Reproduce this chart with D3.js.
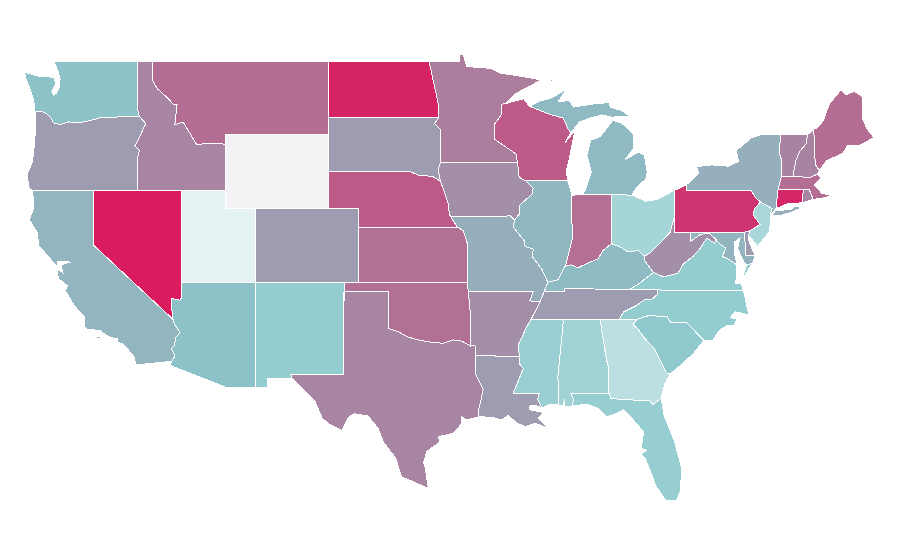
<!DOCTYPE html>
<html>
<head>
<meta charset="utf-8">
<title>us states</title>
<script src="https://cdnjs.cloudflare.com/ajax/libs/d3/7.8.5/d3.min.js"></script>
<style>
  html, body { margin: 0; background: #fff; }
  .state { stroke: #fff; stroke-width: 1px; shape-rendering: crispEdges; }
</style>
</head>
<body>
<div id="chart"></div>
<script>
// values, one per state
var stateNames = ["WY","UT","GA","NJ","OH","AL","MS","FL","NC","NM","VA","SC","AZ","WA","KY","MI","IL","CA","MD","NY","MO","TN","LA","SD","CO","OR","DE","IA","AR","WV","TX","ID","RI","VT","NH","MN","IN","MT","ME","MA","KS","OK","NE","WI","PA","CT","ND","NV"];
var stateValues = [0,6,23,30,32,33.7,37,38,39,39.5,39.5,40.5,43,43,45,45.7,46.8,47.4,48,49.5,50,56,56,56,56,56,56,60.4,60.4,60.4,63.5,63.5,63.5,64,64,66.5,71.3,72,72,72,71,71,78.5,78.5,91.5,96.2,97.3,100];

// shared borders, lon/lat
var columbia = [[-124.05,46.27],[-123.55,46.26],[-123.2,46.15],[-122.9,45.9],[-122.75,45.65],[-122.3,45.55],[-121.7,45.7],[-121.2,45.65],[-120.5,45.72],[-119.6,45.92],[-119,45.95],[-116.92,46]];
var snake = [[-116.92,46],[-116.47,45.6],[-116.7,45.25],[-116.85,44.95],[-117.22,44.4],[-117.05,44.25],[-116.9,44.15],[-117.03,43.8],[-117.03,42]];
var coRiver = [[-114.63,35],[-114.57,34.8],[-114.15,34.27],[-114.45,34],[-114.53,33.6],[-114.72,33.4],[-114.5,33],[-114.72,32.72]];
var nvAz = [[-114.04,37],[-114.04,36.2],[-114.15,36.03],[-114.7,36.12],[-114.75,35.8],[-114.63,35]];
var idMt = [[-116.05,49],[-116.05,48],[-115.7,47.5],[-115,47],[-114.6,46.65],[-114.35,46.65],[-114.5,45.55],[-113.95,45.7],[-113.45,45.05],[-113,44.45],[-112.3,44.55],[-111.5,44.55],[-111.05,44.47]];
var sdNe = [[-98.5,43],[-97.9,42.8],[-97,42.75],[-96.45,42.49]];
var neIa = [[-96.45,42.49],[-96.1,41.7],[-95.9,41.2],[-95.85,40.7],[-95.77,40.58]];
var neMo = [[-95.77,40.58],[-95.31,40]];
var ksMo = [[-95.31,40],[-94.9,39.8],[-94.62,39.1],[-94.62,37]];
var redRiver = [[-94.44,33.57],[-95,33.82],[-95.57,33.88],[-96.25,33.7],[-97.04,33.75],[-97.95,33.88],[-98.74,34.06],[-99.31,34.33],[-100,34.51]];
var sabine = [[-94.04,32],[-93.55,31.2],[-93.7,30.6],[-93.85,30.15],[-93.85,29.72]];
var ndMn = [[-97.23,49],[-96.85,47.6],[-96.55,46.5],[-96.56,45.94]];
var sdMn = [[-96.56,45.94],[-96.85,45.6],[-96.45,45.3],[-96.45,43.5]];
var sdIa = [[-96.45,43.5],[-96.6,43.1],[-96.45,42.49]];
var mnWi = [[-92,46.7],[-92.3,46.65],[-92.3,46.1],[-92.8,45.55],[-92.75,44.75],[-91.3,43.95],[-91.22,43.5]];
var iaWi = [[-91.22,43.5],[-91.1,42.7],[-90.65,42.5]];
var iaIl = [[-90.65,42.5],[-90.15,42.1],[-90.2,41.8],[-91.05,41.2],[-91.1,40.7],[-91.42,40.38]];
var moIl = [[-91.42,40.38],[-91.5,40],[-90.75,39.25],[-90.7,38.95],[-90.15,38.8],[-90.2,38.4],[-89.55,37.7],[-89.15,37]];
var arTn = [[-89.69,35.95],[-89.95,35.5],[-90.14,35.23],[-90.3,35]];
var arMs = [[-90.3,35],[-90.59,34.6],[-91.16,33.6],[-91.09,33]];
var laMs = [[-91.09,33],[-91.1,32.6],[-90.82,32.34],[-91.5,31],[-89.73,31],[-89.85,30.65],[-89.55,30.2]];
var ilKy = [[-89.15,37],[-88.45,37.15],[-88.05,37.8]];
var inKy = [[-87.95,37.9],[-87.6,37.95],[-87.1,37.8],[-86.3,38.1],[-85.75,38.27],[-85.4,38.73],[-84.82,39.1]];
var ohKy = [[-84.82,39.1],[-84.3,38.95],[-83.7,38.65],[-83,38.73],[-82.6,38.42]];
var ohWv = [[-82.6,38.42],[-82.2,38.6],[-81.7,39],[-80.85,39.7],[-80.52,40.64]];
var kyWv = [[-82.6,38.42],[-82.6,38.2],[-81.97,37.54]];
var vaKy = [[-81.97,37.54],[-83.1,36.85],[-83.68,36.6]];
var vaWv = [[-81.97,37.54],[-81.3,37.3],[-80.3,37.5],[-79.95,38],[-79.3,38.4],[-78.87,38.77],[-78.35,39.4],[-77.83,39.13],[-77.72,39.32]];
var mdWv = [[-77.72,39.32],[-78.2,39.68],[-78.8,39.6],[-79.48,39.2],[-79.48,39.72]];
var potomac = [[-77.72,39.32],[-77.5,39.1],[-77.05,38.85],[-77.3,38.4],[-76.95,38.3],[-76.3,37.95]];
var tnNc = [[-84.32,35],[-84,35.4],[-83.2,35.72],[-82.6,36.05],[-82.05,36.1],[-81.7,36.35],[-81.68,36.59]];
var scNc = [[-83.1,35],[-82.3,35.2],[-81.05,35.15],[-80.8,34.82],[-79.7,34.8],[-78.55,33.86]];
var gaSc = [[-83.1,35],[-83.35,34.7],[-83,34.45],[-82.6,34],[-81.9,33.4],[-81.4,32.6],[-81.1,32.1],[-80.85,32.03]];
var alGa = [[-85.6,34.98],[-85.18,32.87],[-85,32.3],[-85.05,31.55],[-85,31]];
var gaFl = [[-85,31],[-84.87,30.7],[-82.2,30.57],[-82.05,30.36],[-81.45,30.72]];
var paNj = [[-74.7,41.36],[-75.1,41],[-75.2,40.65],[-74.72,40.15],[-75.4,39.8]];
var nyPa = [[-79.76,42.27],[-79.76,42],[-75.35,42],[-75.05,41.6],[-74.7,41.36]];
var nyNj = [[-74.7,41.36],[-73.9,41],[-74.05,40.65]];
var deMd = [[-75.79,39.72],[-75.7,38.46],[-75.05,38.45]];
var nyNe = [[-73.65,41],[-73.5,42.05],[-73.27,42.75],[-73.25,43.55],[-73.4,44],[-73.35,45.01]];
var vtNh = [[-71.5,45.01],[-71.6,44.5],[-72.05,44.1],[-72.3,43.6],[-72.45,43],[-72.46,42.73]];
var meNh = [[-71.08,45.3],[-70.98,43.4],[-70.7,43.07]];

// lon/lat outlines, several rings where a state has islands or peninsulas
var stateRings = {
  WA: [[[-117.03,49],[-122.75,49],[-122.6,48.75],[-122.45,48.45],[-122.3,48],[-122.35,47.6],[-122.55,47.25],[-122.75,47.15],[-122.85,47.35],[-122.6,47.8],[-122.7,48.1],[-123.1,48.15],[-123.7,48.17],[-124.7,48.38],[-124.65,48.1],[-124.4,47.6],[-124.15,47],[-124.05,46.65],...columbia,[-117.04,46.42]]],
  OR: [[[-124.05,46.27],...columbia.slice(1),...snake.slice(1),[-120,42],[-124.21,42],[-124.4,42.1],[-124.55,42.84],[-124.2,43.5],[-124.1,44],[-124,45],[-123.95,46.2]]],
  CA: [[[-120,42],[-124.21,42],[-124.1,41.5],[-124.1,41],[-124.4,40.4],[-123.85,39.7],[-123.75,39],[-123,38.3],[-122.5,37.85],[-122.5,38.15],[-121.6,38.1],[-122.25,37.95],[-122.1,37.5],[-122.4,37.72],[-122.5,37.5],[-122.4,37.2],[-122,36.95],[-121.8,36.8],[-121.95,36.55],[-121.3,35.7],[-120.65,35.15],[-120.63,34.6],[-120.45,34.45],[-119.6,34.4],[-119.2,34.15],[-118.8,34],[-118.4,33.95],[-118.4,33.75],[-118,33.65],[-117.3,33],[-117.13,32.53],[-114.72,32.72],...coRiver.slice().reverse().slice(1),[-120,39]],
       [[-119.95,34.02],[-119.55,34.07],[-119.5,33.98],[-119.9,33.95]],[[-118.6,33.48],[-118.35,33.4],[-118.4,33.32]]],
  NV: [[[-120,42],[-114.04,42],...nvAz,[-120,39]]],
  AZ: [[...nvAz,...coRiver.slice(1),[-114.81,32.5],[-111.07,31.33],[-109.05,31.33],[-109.05,37]]],
  UT: [[[-114.04,42],[-111.05,42],[-111.05,41],[-109.05,41],[-109.05,37],[-114.04,37]]],
  ID: [[[-117.03,49],...idMt,[-111.05,42],[-117.03,42],...snake.slice().reverse().slice(1),[-117.04,46.42]]],
  MT: [[...idMt,[-111.05,45],[-104.05,45],[-104.05,49]]],
  WY: [[[-111.05,45],[-104.05,45],[-104.05,41],[-111.05,41]]],
  CO: [[[-109.05,41],[-102.05,41],[-102.05,37],[-109.05,37]]],
  NM: [[[-109.05,37],[-103,37],[-103.05,32],[-106.62,32],[-106.53,31.78],[-108.2,31.78],[-108.2,31.33],[-109.05,31.33]]],
  ND: [[[-104.05,49],...ndMn,[-104.05,45.94]]],
  SD: [[[-104.05,45.94],...sdMn,...sdIa.slice(1),...sdNe.slice().reverse().slice(1),[-104.05,43]]],
  NE: [[[-104.05,43],...sdNe,...neIa.slice(1),...neMo.slice(1),[-102.05,40],[-102.05,41],[-104.05,41]]],
  KS: [[[-102.05,40],...ksMo,[-102.05,37]]],
  OK: [[[-103,37],[-94.62,37],[-94.43,35.4],...redRiver,[-100,36.5],[-103,36.5]]],
  TX: [[[-103,36.5],[-100,36.5],...redRiver.slice().reverse(),[-94.04,33.55],[-94.04,33.02],...sabine,[-94.7,29.54],[-95,29.72],[-95,29.36],[-95.57,28.82],[-96.6,28.64],[-96.5,28.35],[-97.38,27.83],[-97.6,27.2],[-97.5,27],[-97.27,25.84],[-97.6,25.95],[-98.75,26.35],[-99.1,26.45],[-99.5,27.5],[-100.3,28.3],[-100.7,29.1],[-101.4,29.77],[-102.3,29.88],[-102.7,29.7],[-103.15,28.98],[-104,29.3],[-104.5,29.65],[-105,30.6],[-106.53,31.78],[-106.62,32],[-103.05,32]]],
  MN: [[[-97.23,49],[-95.15,49],[-95.15,49.38],[-94.9,49.33],[-94.67,48.7],[-93,48.6],[-92.4,48.35],[-90.8,48.15],[-89.6,47.97],[-91.3,47.25],...mnWi,[-96.45,43.5],...sdMn.slice().reverse().slice(1),...ndMn.slice().reverse().slice(1)]],
  IA: [[[-96.45,43.5],...iaWi,...iaIl.slice(1),[-91.7,40.6],[-95.77,40.58],...neIa.slice().reverse().slice(1),[-96.6,43.1]]],
  MO: [[[-95.77,40.58],[-91.7,40.6],...moIl,[-89.4,36.5],[-89.69,35.95],[-90.37,36],[-90.15,36.5],[-94.62,36.5],[-94.62,37],[-94.62,39.1],[-94.9,39.8],[-95.31,40]]],
  AR: [[[-94.62,36.5],[-90.15,36.5],[-90.37,36],...arTn,...arMs.slice(1),[-94.04,33.02],[-94.04,33.55],[-94.44,33.57],[-94.43,35.4]]],
  LA: [[[-94.04,33.02],...laMs,[-90,30.33],[-90.4,30.3],[-90.4,30.1],[-89.9,30.02],[-89.4,29.95],[-89.8,29.63],[-89.12,29.09],[-90,29.36],[-90.7,29.18],[-91.3,29.4],[-91.85,29.8],[-92.29,29.54],[-92.86,29.68],[-93.78,29.72],...sabine.slice().reverse()]],
  WI: [[[-92,46.7],[-91.2,46.87],[-90.8,46.95],[-90.4,46.55],[-89.1,46.13],[-88.1,45.9],[-87.8,45.35],[-87.6,45.1],[-88,44.55],[-87.3,45.25],[-87.5,44.5],[-87.7,43.7],[-87.9,43],[-87.8,42.5],[-90.65,42.5],...iaWi.slice().reverse().slice(1),...mnWi.slice().reverse().slice(1)]],
  IL: [[[-90.65,42.5],[-87.8,42.5],[-87.55,41.85],[-87.53,41.7],[-87.5,39.35],[-87.95,37.9],[-88.05,37.8],...ilKy.slice().reverse().slice(1),...moIl.slice().reverse().slice(1),...iaIl.slice().reverse().slice(1)]],
  IN: [[[-87.53,41.7],[-87.2,41.75],[-86.82,41.76],[-84.8,41.76],[-84.82,39.1],...inKy.slice().reverse().slice(1),[-87.5,39.35]]],
  OH: [[[-84.82,39.1],...ohKy.slice(1),...ohWv.slice(1),[-80.52,42],[-81.7,41.5],[-82.5,41.4],[-83.45,41.73],[-84.8,41.76]]],
  KY: [[[-89.4,36.5],[-88.05,36.5],[-88.05,36.68],[-83.68,36.6],...vaKy.slice().reverse().slice(1),...kyWv.slice().reverse().slice(1),...ohKy.slice().reverse().slice(1),...inKy.slice().reverse().slice(1),...ilKy.slice().reverse()]],
  TN: [[[-89.69,35.95],...arTn.slice(1),[-88.2,35],[-85.6,34.98],...tnNc,[-83.68,36.6],[-88.05,36.68],[-88.05,36.5],[-89.4,36.5]]],
  MS: [[[-90.3,35],[-88.2,35],[-88.1,34.9],[-88.47,31.9],[-88.4,30.35],[-89,30.4],...laMs.slice().reverse(),...arMs.slice().reverse().slice(1)]],
  AL: [[[-88.2,35],...alGa,[-87.6,31],[-87.4,30.65],[-87.5,30.3],[-88,30.25],[-88,30.65],[-88.1,30.35],[-88.4,30.35],[-88.47,31.9],[-88.1,34.9]]],
  GA: [[...alGa,...gaFl.slice(1),[-81.2,31.5],[-80.85,32.03],...gaSc.slice().reverse().slice(1),[-85.6,34.98]]],
  FL: [[[-87.6,31],...gaFl,[-81.25,29.8],[-80.55,28.4],[-80.05,26.9],[-80.15,25.7],[-80.4,25.2],[-81.1,25.15],[-81.85,26.0],[-82.05,26.5],[-82.5,27.4],[-82.8,27.7],[-82.45,27.9],[-82.8,28],[-82.65,28.9],[-83.4,29.6],[-84,30.1],[-84.35,29.95],[-85.15,29.7],[-85.7,30.15],[-86.5,30.4],[-87.5,30.3],[-87.4,30.65]]],
  SC: [[...scNc,[-79.2,33.2],[-79.9,32.65],...gaSc.slice().reverse()]],
  NC: [[...tnNc.slice(0,1),[-83.1,35],...scNc.slice(1),[-77.95,33.85],[-77.5,34.4],[-77,34.65],[-76.5,34.65],[-76.3,35],[-76.75,35.1],[-76.4,35.4],[-75.5,35.25],[-75.75,36.2],[-75.87,36.55],...tnNc.slice().reverse()]],
  VA: [[[-83.68,36.6],[-81.68,36.59],[-75.87,36.55],[-76,36.92],[-76.4,36.95],[-76.3,37.5],...potomac.slice().reverse(),...vaWv.slice().reverse().slice(1),...vaKy.slice(1)],
       [[-75.95,37.15],[-75.6,37.6],[-75.25,38.03],[-75.65,37.95]]],
  WV: [[[-82.6,38.42],...ohWv.slice(1),[-80.52,39.72],[-79.48,39.72],...mdWv.slice().reverse().slice(1),...vaWv.slice().reverse().slice(1),...kyWv.slice().reverse().slice(1)]],
  MD: [[[-79.48,39.72],...deMd,[-75.25,38.03],[-75.65,37.95],[-75.9,38.2],[-76.25,38.85],[-76.1,39.4],[-76.45,39.2],[-76.5,38.7],[-76.3,37.95],...potomac.slice().reverse().slice(1),...mdWv.slice(1)]],
  DE: [[...deMd,[-75.4,39.05],[-75.55,39.45],[-75.4,39.8]]],
  PA: [[...nyPa,...paNj.slice(1),[-75.79,39.72],[-80.52,39.72],[-80.52,42]]],
  NJ: [[...paNj,[-75.55,39.6],[-75.2,39.25],[-74.9,38.95],[-74.1,39.75],[-74,40.45],...nyNj.slice().reverse()]],
  NY: [[...nyPa,...nyNj.slice(1),[-73.65,41],...nyNe.slice(1),[-74.7,45],[-75.3,44.85],[-76.35,44.15],[-76.2,43.55],[-76.9,43.3],[-78,43.37],[-79.05,43.27],[-78.9,42.9]],
       [[-74,40.6],[-73.7,40.87],[-72.6,40.97],[-72.3,41.15],[-71.9,41.05],[-72.6,40.8],[-73.5,40.6]]],
  CT: [[[-73.65,41],[-73.5,42.05],[-71.8,42.02],[-71.85,41.32],[-72.9,41.25]]],
  RI: [[[-71.8,42.02],[-71.38,42.02],[-71.12,41.5],[-71.85,41.32]]],
  MA: [[[-73.5,42.05],[-73.27,42.75],[-72.46,42.73],[-71.3,42.7],[-70.82,42.87],[-70.6,42.65],[-71.05,42.3],[-70.65,41.95],[-70.55,41.8],[-70.05,41.78],[-70.2,42.08],[-69.95,41.67],[-70.6,41.55],[-71.12,41.5],[-71.38,42.02],[-71.8,42.02]]],
  VT: [[...nyNe.slice(3).reverse(),...[[-73.27,42.75],[-72.46,42.73]],...vtNh.slice().reverse().slice(1)]],
  NH: [[...vtNh,[-71.3,42.7],[-70.82,42.87],...meNh.slice().reverse()]],
  ME: [[...meNh,[-70.2,43.6],[-69.1,44],[-68.8,44.4],[-68,44.4],[-67,44.85],[-67.45,45.3],[-67.78,45.9],[-67.8,47.07],[-68.3,47.35],[-68.9,47.18],[-69.22,47.45],[-70,46.7],[-70.25,46.2],[-70.4,45.8],[-70.8,45.4]]],
  MI: [[[-86.82,41.76],[-84.8,41.76],[-83.45,41.73],[-83.15,42.1],[-82.5,42.6],[-82.4,43],[-82.6,43.9],[-83,44.07],[-83.9,43.65],[-83.3,44.3],[-83.3,45],[-84.15,45.65],[-84.75,45.78],[-85.1,45.4],[-85.6,44.9],[-86.25,44.7],[-86.5,43.9],[-86.2,43],[-86.6,42]],
       [[-90.4,46.55],[-89.1,46.13],[-88.1,45.9],[-87.8,45.35],[-87.6,45.1],[-87,45.7],[-86.3,45.9],[-85.5,46.08],[-84.75,45.95],[-84.4,46],[-83.6,46],[-84.1,46.3],[-84.9,46.5],[-85,46.75],[-86.1,46.67],[-87.4,46.5],[-87.7,46.85],[-88.45,46.8],[-87.9,47.47],[-88.9,47],[-89.8,46.8]],
       [[-89.2,47.85],[-88.5,48.15],[-88.9,47.9]]]
};

var width = 900, height = 560;

var x = d3.scaleLinear().domain([-124.7, -67]).range([24.8, 873.8]);
var y = d3.scaleLinear().domain([49, 25.12]).range([61, 501.6]);

var color = d3.scaleLinear()
  .domain([0, 6, 40, 43, 100])
  .range(["#f3f3f5", "#e5f2f4", "#92cccf", "#8cc2c8", "#da1b60"]);

var path = d3.geoPath().projection(d3.geoTransform({
  point: function(lon, lat) { this.stream.point(x(lon), y(lat)); }
}));

var features = stateNames.map(function(name, i) {
  return {
    type: "Feature",
    properties: { name: name, value: stateValues[i] },
    geometry: {
      type: "MultiPolygon",
      coordinates: stateRings[name].map(function(ring) { return [ring.concat([ring[0]])]; })
    }
  };
});

var svg = d3.select("#chart").append("svg")
  .attr("width", width)
  .attr("height", height)
  .style("display", "block");

svg.selectAll("path")
  .data(features)
  .enter()
  .append("path")
  .attr("class", "state")
  .attr("d", path)
  .style("fill", function(d) { return color(d.properties.value); });
</script>
</body>
</html>
